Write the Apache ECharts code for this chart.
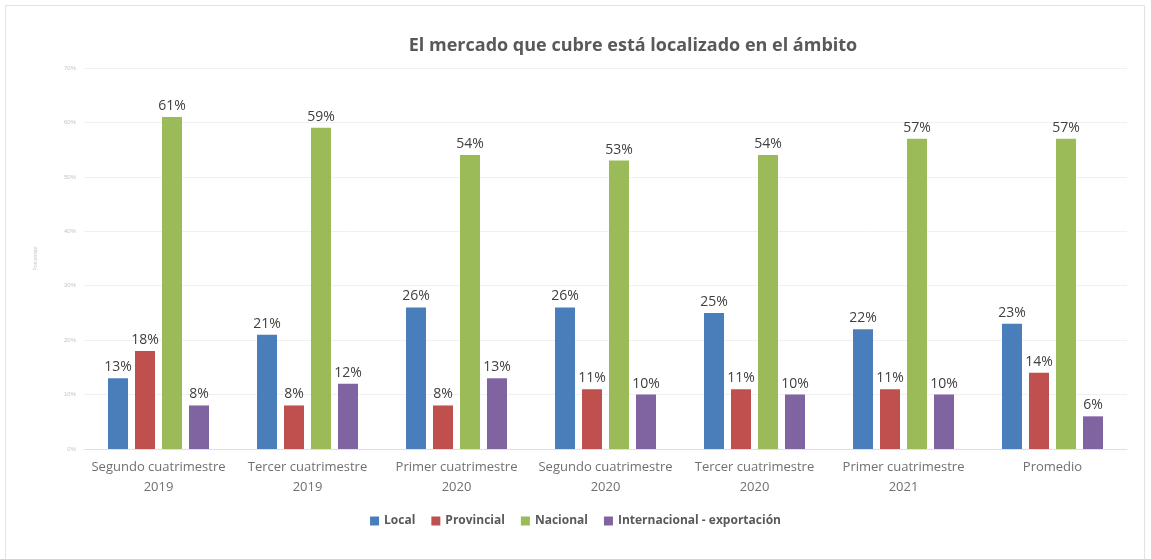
<!DOCTYPE html>
<html>
<head>
<meta charset="utf-8">
<script src="https://cdn.jsdelivr.net/npm/echarts@6/dist/echarts.min.js"></script>
<style>
  html, body { margin: 0; padding: 0; background: #fff; }
  #frame {
    position: absolute; left: 5px; top: 5px; width: 1140px; height: 560px;
    border: 1px solid #e3e3e3; box-sizing: border-box;
  }
  #chart { position: absolute; left: 0; top: 0; width: 1151px; height: 559px; }
</style>
</head>
<body>
<div id="frame"></div>
<div id="chart"></div>
<script>
// categorías (eje x)
const categories = [
  'Segundo cuatrimestre\n2019',
  'Tercer cuatrimestre\n2019',
  'Primer cuatrimestre\n2020',
  'Segundo cuatrimestre\n2020',
  'Tercer cuatrimestre\n2020',
  'Primer cuatrimestre\n2021',
  'Promedio'
]

// valores en %
const local = [13, 21, 26, 26, 25, 22, 23]
const provincial = [18, 8, 8, 11, 11, 11, 14]
const nacional = [61, 59, 54, 53, 54, 57, 57]
const internacional = [8, 12, 13, 10, 10, 10, 6]

const seriesNames = ['Local', 'Provincial', 'Nacional', 'Internacional - exportación']
const seriesColors = ['#4A7EBB', '#C0504D', '#9BBB59', '#8064A2']
const seriesData = [local, provincial, nacional, internacional]

const chart = echarts.init(document.getElementById('chart'))

const option = {
  backgroundColor: 'transparent',
  animation: false,
  title: {
    text: 'El mercado que cubre está localizado en el ámbito',
    left: 628,
    textAlign: 'center',
    top: 32,
    textStyle: {
      fontFamily: 'Open Sans',
      fontSize: 18,
      fontWeight: 'bold',
      color: '#595959'
    }
  },
  legend: {
    bottom: 27,
    left: 'center',
    itemWidth: 9,
    itemHeight: 9,
    itemGap: 16,
    icon: 'rect',
    textStyle: {
      fontFamily: 'Open Sans',
      fontSize: 12,
      fontWeight: 'bold',
      color: '#595959'
    },
    data: seriesNames
  },
  grid: {
    left: 84,
    right: 24,
    top: 68,
    bottom: 110
  },
  xAxis: {
    type: 'category',
    data: categories,
    axisTick: { show: false },
    axisLine: { lineStyle: { color: '#e0e0e0' } },
    axisLabel: {
      color: '#707070',
      fontFamily: 'Open Sans',
      fontSize: 13,
      lineHeight: 20,
      margin: 8,
      interval: 0
    }
  },
  yAxis: {
    type: 'value',
    min: 0,
    max: 70,
    interval: 10,
    name: 'Porcentaje',
    nameLocation: 'middle',
    nameGap: 46,
    nameTextStyle: { color: '#c8c8c8', fontSize: 5 },
    axisLabel: {
      formatter: '{value}%',
      color: '#c4c4c4',
      fontSize: 6,
      margin: 8
    },
    splitLine: { lineStyle: { color: '#f0f0f0' } }
  },
  series: seriesData.map((data, i) => ({
    name: seriesNames[i],
    type: 'bar',
    data: data,
    barWidth: 20,
    barGap: '35%',
    itemStyle: { color: seriesColors[i] },
    label: {
      show: true,
      position: 'top',
      distance: 4,
      formatter: '{c}%',
      color: '#404040',
      fontFamily: 'Open Sans',
      fontSize: 14
    }
  }))
}

chart.setOption(option)
</script>
</body>
</html>
